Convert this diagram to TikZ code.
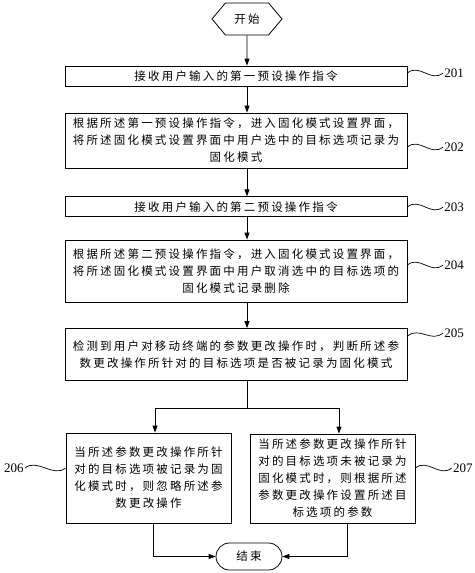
\documentclass[tikz,border=0pt]{standalone}
\usepackage{fontspec}
\setmainfont{Liberation Serif}
\newfontfamily\cjk[LetterSpace=19]{Noto Sans CJK SC}
\usepackage{tikz}
\usetikzlibrary{arrows.meta,positioning,shapes.misc,shapes.symbols}

\begin{document}
\begin{tikzpicture}[x=1pt,y=-1pt,line width=0.8pt,
  box/.style={draw,align=center,inner xsep=5pt,inner ysep=2pt,
    font=\cjk\fontsize{11.5}{17}\selectfont},
  wide/.style={box,text width=332pt,minimum width=342pt},
  side/.style={box,text width=155pt,minimum width=165pt},
  arr/.style={-{Triangle[length=7pt,width=5pt]}},
  lbl/.style={inner sep=1pt,font=\fontsize{13}{15}\selectfont},
  wave/.style={line width=0.7pt}]
\useasboundingbox (0,0) rectangle (474,573);

\node[draw,signal,signal to=west and east,signal pointer angle=100,
  minimum width=70pt,minimum height=32pt,inner sep=1pt,
  font=\cjk\fontsize{11.5}{17}\selectfont] (start) at (247,19) {开始};

\node[wide,minimum height=20pt] (s201) at (236,76) {接收用户输入的第一预设操作指令};
\node[wide,minimum height=55pt] (s202) at (236,140.5) {根据所述第一预设操作指令，进入固化模式设置界面，\\将所述固化模式设置界面中用户选中的目标选项记录为\\固化模式};
\node[wide,minimum height=20pt] (s203) at (236,206.7) {接收用户输入的第二预设操作指令};
\node[wide,minimum height=62pt] (s204) at (236,271) {根据所述第二预设操作指令，进入固化模式设置界面，\\将所述固化模式设置界面中用户取消选中的目标选项的\\固化模式记录删除};
\node[wide,minimum height=52pt] (s205) at (236,354.5) {检测到用户对移动终端的参数更改操作时，判断所述参\\数更改操作所针对的目标选项是否被记录为固化模式};

\node[side,minimum height=90pt] (s206) at (148.5,478) {当所述参数更改操作所针\\对的目标选项被记录为固\\化模式时，则忽略所述参\\数更改操作};
\node[side,minimum height=89pt] (s207) at (332.5,478.5) {当所述参数更改操作所针\\对的目标选项未被记录为\\固化模式时，则根据所述\\参数更改操作设置所述目\\标选项的参数};

\node[draw,rounded rectangle,minimum width=68pt,minimum height=27pt,inner sep=1pt,
  font=\cjk\fontsize{11.5}{17}\selectfont] (end) at (249,556.5) {结束};

% step numbers
\node[lbl,anchor=west] (n201) at (443,73) {201};
\node[lbl,anchor=west] (n202) at (443,147) {202};
\node[lbl,anchor=west] (n203) at (443,207) {203};
\node[lbl,anchor=west] (n204) at (443,265) {204};
\node[lbl,anchor=west] (n205) at (443,333) {205};
\node[lbl,anchor=east] (n206) at (25,468) {206};
\node[lbl,anchor=east] (n207) at (474,468) {207};

\draw[wave] (s201.east |- n201.west) .. controls +(12,-10) and +(-12,10) .. (n201.west);
\draw[wave] (s202.east |- n202.west) .. controls +(12,-10) and +(-12,10) .. (n202.west);
\draw[wave] (s203.east |- n203.west) .. controls +(12,-10) and +(-12,10) .. (n203.west);
\draw[wave] (s204.east |- n204.west) .. controls +(12,-10) and +(-12,10) .. (n204.west);
\draw[wave] ([yshift=-8pt]s205.north east) .. controls +(12,-10) and +(-12,10) .. (n205.west);
\draw[wave] (n206.east) .. controls +(12,-10) and +(-12,10) .. (s206.west |- n206.east);
\draw[wave] (s207.east |- n207.west) .. controls +(12,-10) and +(-12,10) .. (n207.west);

% main column
\draw[arr] (start) -- (start |- s201.north);
\draw[arr] (s201.south -| start) -- (s202.north -| start);
\draw[arr] (s202.south -| start) -- (s203.north -| start);
\draw[arr] (s203.south -| start) -- (s204.north -| start);
\draw[arr] (s204.south -| start) -- (s205.north -| start);

% branch
\coordinate (fork) at (247,408);
\draw (s205.south -| start) -- (fork);
\draw[arr] (fork) -| ([xshift=6.5pt]s206.north);
\draw[arr] (fork) -| ([xshift=6.5pt]s207.north);
\draw[arr] ([xshift=5pt]s206.south) |- (end.west);
\draw[arr] ([xshift=14.5pt]s207.south) |- (end.east);
\end{tikzpicture}
\end{document}
